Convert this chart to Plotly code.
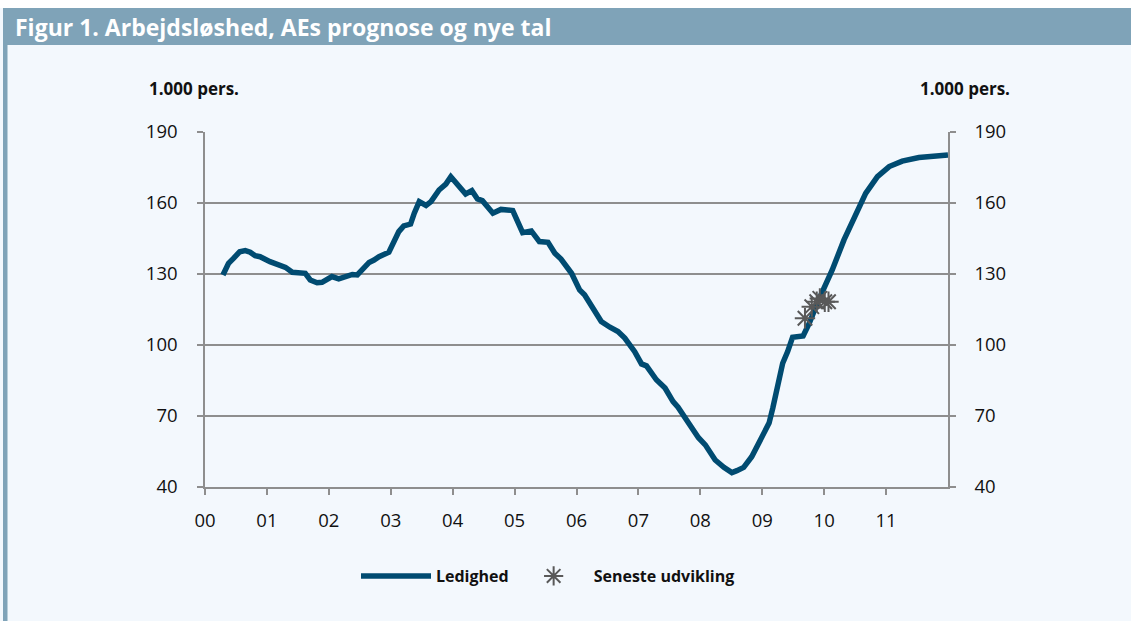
import plotly.graph_objects as go

# ---- data ----
years = [2000.29, 2000.38, 2000.46, 2000.56, 2000.65, 2000.73, 2000.81, 2000.89,
         2001.05, 2001.16, 2001.30, 2001.41, 2001.51, 2001.62, 2001.70, 2001.81,
         2001.89, 2002.05, 2002.16, 2002.27, 2002.38, 2002.46, 2002.54, 2002.65,
         2002.73, 2002.81, 2002.97, 2003.05, 2003.13, 2003.21, 2003.32, 2003.38,
         2003.46, 2003.57, 2003.65, 2003.78, 2003.89, 2003.97, 2004.08, 2004.21,
         2004.31, 2004.40, 2004.48, 2004.65, 2004.78, 2004.97, 2005.13, 2005.27,
         2005.40, 2005.54, 2005.65, 2005.75, 2005.92, 2006.05, 2006.13, 2006.27,
         2006.40, 2006.54, 2006.67, 2006.78, 2006.94, 2007.05, 2007.13, 2007.29,
         2007.43, 2007.56, 2007.64, 2007.81, 2007.97, 2008.08, 2008.24, 2008.38,
         2008.51, 2008.59, 2008.70, 2008.83, 2009.00, 2009.11, 2009.17, 2009.25,
         2009.33, 2009.41, 2009.49, 2009.66, 2009.76, 2009.91, 2010.13, 2010.32,
         2010.51, 2010.67, 2010.86, 2011.05, 2011.26, 2011.53, 2012.00]
ledighed = [129.6, 134.5, 136.6, 139.4, 139.9, 139.2, 137.7, 137.3,
            135.2, 134.2, 132.8, 130.7, 130.6, 130.3, 127.5, 126.3,
            126.5, 128.9, 127.9, 128.6, 129.8, 129.6, 131.7, 134.9,
            135.9, 137.3, 139.2, 143.0, 147.9, 150.3, 151.1, 155.7,
            160.6, 159.0, 160.6, 165.5, 168.0, 171.1, 167.6, 163.8,
            165.2, 161.7, 161.0, 155.7, 157.3, 156.8, 147.5, 148.2,
            143.7, 143.4, 138.8, 136.3, 130.3, 123.3, 121.2, 114.8,
            109.9, 107.5, 105.7, 102.9, 97.2, 92.0, 91.2, 85.3,
            81.8, 76.1, 73.7, 67.0, 60.8, 57.8, 51.4, 48.3,
            46.1, 46.9, 48.3, 52.8, 61.3, 67.0, 73.3, 82.4,
            92.3, 97.2, 103.3, 103.8, 109.2, 119.0, 131.7, 144.4,
            155.7, 164.1, 171.1, 175.4, 177.7, 179.2, 180.3]

star_years = [2009.69, 2009.80, 2009.88, 2009.93, 2010.01, 2010.07]
star_values = [111.3, 116.2, 118.3, 119.7, 118.3, 118.3]

tick_years = list(range(2000, 2012))
tick_labels = ["00", "01", "02", "03", "04", "05", "06", "07", "08", "09", "10", "11"]
y_ticks = [40, 70, 100, 130, 160, 190]

# ---- styling ----
BG = "#F3F8FD"
BAR = "#7FA3B8"
LINE = "#004B71"
GRID = "#8E8E8E"
FONT = "Open Sans"

W, H = 1131, 621
L, R, T, B = 205, 948, 132, 487   # plot area in pixels

def px(x):
    return (x - L) / (R - L)

def py(y):
    return (B - y) / (B - T)

fig = go.Figure()
fig.add_trace(go.Scatter(
    x=years, y=ledighed, mode="lines", name="Ledighed",
    line=dict(color=LINE, width=5.5), yaxis="y"))
fig.add_trace(go.Scatter(
    x=star_years, y=star_values, mode="markers", name="Seneste udvikling",
    marker=dict(symbol="asterisk-open", size=17, color="#595959",
                line=dict(color="#595959", width=2)), yaxis="y"))
# invisible trace to activate right axis
fig.add_trace(go.Scatter(x=[2000], y=[40], mode="markers", yaxis="y2",
                         marker=dict(opacity=0), showlegend=False, hoverinfo="skip"))

axis_common = dict(range=[40, 190], tickvals=y_ticks, ticks="outside", ticklen=6,
                   tickcolor=GRID, tickwidth=1.5, showline=True, linecolor=GRID,
                   linewidth=1.5, zeroline=False,
                   tickfont=dict(family=FONT, size=18.5, color="#111111"))

fig.update_layout(
    width=W, height=H,
    margin=dict(l=L, r=W - R, t=T, b=H - B, pad=0),
    paper_bgcolor=BG, plot_bgcolor=BG,
    font=dict(family=FONT),
    xaxis=dict(range=[2000, 2012], tickvals=tick_years, ticktext=tick_labels,
               ticks="outside", ticklen=6, tickcolor=GRID, tickwidth=1.5,
               showline=True, linecolor=GRID, linewidth=1.5, showgrid=False,
               zeroline=False, ticklabelstandoff=10,
               tickfont=dict(family=FONT, size=18.5, color="#111111")),
    yaxis=dict(**axis_common, showgrid=True, gridcolor=GRID, gridwidth=1.5,
               ticklabelstandoff=16),
    yaxis2=dict(**axis_common, overlaying="y", side="right", showgrid=False,
                ticklabelstandoff=15),
    showlegend=True,
    legend=dict(orientation="h", x=px(548), xanchor="center", y=py(576),
                yanchor="middle", bgcolor="rgba(0,0,0,0)",
                font=dict(family=FONT, size=16, color="#111111", weight="bold"),
                itemwidth=70, tracegroupgap=0),
    shapes=[
        dict(type="rect", xref="paper", yref="paper", x0=px(0), x1=px(W),
             y0=py(8), y1=py(0), fillcolor="white", line=dict(width=0), layer="below"),
        dict(type="rect", xref="paper", yref="paper", x0=px(3), x1=px(W),
             y0=py(45), y1=py(8), fillcolor=BAR, line=dict(width=0), layer="below"),
        dict(type="rect", xref="paper", yref="paper", x0=px(3), x1=px(7.5),
             y0=py(H), y1=py(45), fillcolor=BAR, line=dict(width=0), layer="below"),
    ],
    annotations=[
        dict(text="<b>Figur 1. Arbejdsløshed, AEs prognose og nye tal</b>",
             xref="paper", yref="paper", x=px(13), y=py(27), xanchor="left",
             yanchor="middle", showarrow=False,
             font=dict(family=FONT, size=23, color="white")),
        dict(text="<b>1.000 pers.</b>", xref="paper", yref="paper",
             x=px(147), y=py(89), xanchor="left", yanchor="middle", showarrow=False,
             font=dict(family=FONT, size=17, color="#111111")),
        dict(text="<b>1.000 pers.</b>", xref="paper", yref="paper",
             x=px(1012), y=py(89), xanchor="right", yanchor="middle", showarrow=False,
             font=dict(family=FONT, size=17, color="#111111")),
    ],
)

fig.write_html("out.html", config={"displayModeBar": False},
               post_script="document.body.style.margin='0';document.body.style.padding='0';")
